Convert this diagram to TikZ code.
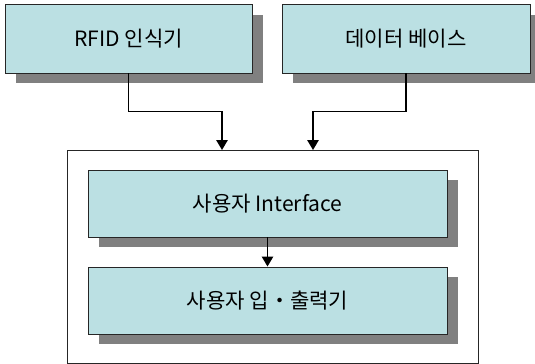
\documentclass[tikz,border=0pt]{standalone}
\usepackage{fontspec}
\setmainfont{Noto Sans CJK KR}
\usepackage{tikz}
\usetikzlibrary{arrows.meta, shadows}

\definecolor{boxfill}{HTML}{BBE0E3}
\definecolor{shadowgray}{HTML}{808080}

\tikzset{
  unitbox/.style={rectangle, draw=black!85, line width=0.7pt, fill=boxfill,
    font=\fontsize{15pt}{18pt}\selectfont,
    drop shadow={shadow xshift=0.28cm, shadow yshift=-0.25cm, fill=shadowgray, opacity=1}},
  arr/.style={-{Triangle[width=8pt,length=7pt]}, line width=1.1pt}
}

\begin{document}
\begin{tikzpicture}
  \useasboundingbox (0,0) rectangle (13.375,9.1);
  \node[unitbox, minimum width=6.175cm, minimum height=1.7cm] (rfid) at (3.2125,8.125) {RFID 인식기};
  \node[unitbox, minimum width=6.2cm, minimum height=1.7cm] (db) at (10.15,8.125) {데이터 베이스};
  \node[draw=black!85, line width=0.7pt, minimum width=10.275cm, minimum height=5.325cm] (outer) at (6.8125,2.6875) {};
  \node[unitbox, minimum width=8.975cm, minimum height=1.675cm] (ui) at (6.6875,4.0125) {사용자 Interface};
  \node[unitbox, minimum width=8.975cm, minimum height=1.675cm] (io) at (6.6875,1.5875) {사용자 입・출력기};
  \coordinate (inA) at (5.55,5.35);
  \coordinate (inB) at (7.825,5.35);
  \draw[arr] (rfid.south) -- ++(0,-0.95) -| (inA);
  \draw[arr] (db.south) -- ++(0,-0.95) -| (inB);
  \draw[arr] (ui.south) -- (io.north);
\end{tikzpicture}
\end{document}
